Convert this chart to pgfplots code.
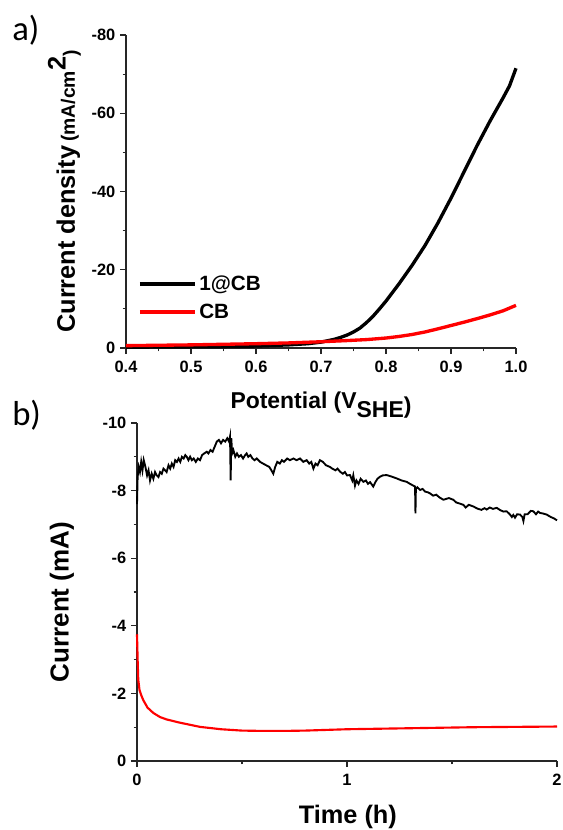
\documentclass[border=0pt]{standalone}
\usepackage{fontspec}
\setmainfont{Liberation Sans}
\newfontfamily\panelfont{Carlito}
\usepackage{pgfplots}
\pgfplotsset{compat=1.18}

\pgfplotsset{
  panel/.style={
    scale only axis,
    y dir=reverse,
    axis x line*=bottom, axis y line*=left,
    axis line style={line width=0.8pt, black!85, -},
    every tick/.style={line width=0.8pt, black!85},
    tick align=outside,
    major tick length=4.5pt,
    minor tick length=2.6pt,
    minor tick num=1,
    tick label style={font=\fontsize{12.3}{13}\selectfont\bfseries},
    xticklabel style={yshift=-1.5pt},
    /pgf/number format/assume math mode=true,
    label style={font=\bfseries},
    clip=false,
  },
}

\begin{document}
\begin{tikzpicture}
\useasboundingbox (0,0) rectangle (421.5pt,-622.5pt);

% ---- a) linear sweep
\begin{axis}[panel,
  at={(94.5pt,-261pt)}, anchor=south west,
  width=292.5pt, height=234.75pt,
  xmin=0.4, xmax=1.0, ymin=-80, ymax=0,
  xtick={0.4,0.5,0.6,0.7,0.8,0.9,1.0},
  ytick={-80,-60,-40,-20,0},
  xticklabel style={/pgf/number format/.cd, fixed, fixed zerofill, precision=1},
  xlabel={Potential (V\raisebox{-0.75ex}{SHE}\raisebox{-0.45ex}{)}},
  xlabel style={at={(axis description cs:0.5,-0.192)}, anchor=base,
    font=\fontsize{17.2}{19}\selectfont\bfseries},
  ylabel={{\fontsize{19}{20}\selectfont Current density} {\fontsize{14.5}{16}\selectfont (mA/cm\raisebox{0.9ex}{\fontsize{19}{20}\selectfont 2}\raisebox{-0.2ex}{)}}},
  ylabel style={at={(axis description cs:-0.158,0.5)}, anchor=center},
  legend style={draw=none, fill=none, inner sep=0pt,
    at={(axis description cs:0.03,0.16)}, anchor=west,
    font=\fontsize{15.5}{17}\selectfont\bfseries, row sep=5pt,
    nodes={inner sep=2pt}},
  legend cell align=left,
  legend image code/.code={\draw[#1, line width=3pt] (0pt,0pt) -- (41pt,0pt);},
]
\addplot[black, line width=2.5pt] coordinates {
(0.40,-0.2)(0.45,-0.25)(0.50,-0.3)(0.55,-0.35)(0.60,-0.5)(0.65,-0.8)
(0.68,-1.1)(0.70,-1.5)(0.72,-2.2)(0.73,-2.7)(0.74,-3.3)(0.75,-4.1)(0.76,-5.1)
(0.77,-6.5)(0.78,-8.1)(0.79,-10.0)(0.80,-12.0)(0.82,-16.4)(0.84,-21.1)
(0.86,-26.2)(0.88,-32.0)(0.90,-38.3)(0.92,-45.0)(0.94,-51.7)(0.96,-58.0)
(0.98,-63.9)(0.99,-67.0)(1.00,-71.5)};
\addlegendentry{1@CB}
\addplot[red, line width=2.5pt] coordinates {
(0.40,-0.6)(0.50,-0.8)(0.60,-1.1)(0.65,-1.3)(0.70,-1.6)(0.74,-1.9)
(0.77,-2.15)(0.80,-2.55)(0.82,-2.95)(0.84,-3.45)(0.86,-4.1)(0.88,-4.9)
(0.90,-5.75)(0.92,-6.6)(0.94,-7.5)(0.96,-8.45)(0.98,-9.5)(1.00,-10.9)};
\addlegendentry{CB}
\end{axis}

% ---- b) chronoamperometry
\begin{axis}[panel,
  at={(102.75pt,-570.75pt)}, anchor=south west,
  width=315pt, height=253.5pt,
  xmin=0, xmax=2, ymin=-10, ymax=0,
  xtick={0,1,2},
  ytick={-10,-8,-6,-4,-2,0},
  xlabel={Time (h)},
  xlabel style={at={(axis description cs:0.502,-0.186)}, anchor=base,
    font=\fontsize{19}{20}\selectfont\bfseries},
  ylabel={Current (mA)},
  ylabel style={at={(axis description cs:-0.179,0.47)}, anchor=center,
    font=\fontsize{19.5}{21}\selectfont\bfseries},
]
\addplot[black, line width=1.4pt] coordinates {
(0.000,-7.6)(0.003,-8.4)(0.008,-8.7)(0.014,-8.55)(0.020,-8.85)(0.026,-8.6)
(0.032,-8.9)(0.040,-8.7)(0.048,-8.45)(0.055,-8.6)(0.062,-8.3)(0.070,-8.5)
(0.078,-8.35)(0.086,-8.55)(0.094,-8.45)(0.102,-8.4)(0.110,-8.55)(0.118,-8.5)
(0.126,-8.65)(0.134,-8.6)(0.141,-8.55)(0.150,-8.75)(0.158,-8.65)(0.166,-8.8)
(0.174,-8.7)(0.182,-8.9)(0.190,-8.85)(0.198,-8.95)(0.206,-8.85)(0.214,-9.0)
(0.222,-8.95)(0.230,-9.05)(0.237,-9.0)(0.245,-8.9)(0.253,-9.0)(0.261,-8.9)
(0.270,-8.95)(0.280,-8.85)(0.290,-8.95)(0.300,-8.9)(0.310,-9.05)(0.320,-9.1)
(0.332,-9.15)(0.340,-9.1)(0.350,-9.2)(0.360,-9.15)(0.370,-9.3)(0.380,-9.45)
(0.390,-9.5)(0.400,-9.4)(0.410,-9.5)(0.420,-9.45)(0.430,-9.55)(0.438,-9.45)
(0.443,-9.6)(0.446,-8.3)(0.449,-9.55)(0.453,-9.1)(0.459,-9.2)(0.468,-9.0)
(0.476,-9.1)(0.485,-9.0)(0.495,-9.05)(0.505,-8.95)(0.515,-9.05)(0.522,-9.1)
(0.530,-9.0)(0.540,-9.05)(0.550,-8.95)(0.560,-8.9)(0.570,-8.95)(0.586,-8.85)
(0.600,-8.8)(0.615,-8.75)(0.630,-8.7)(0.640,-8.6)(0.649,-8.5)(0.658,-8.7)
(0.668,-8.85)(0.680,-8.8)(0.690,-8.9)(0.700,-8.85)(0.715,-8.95)(0.728,-8.9)
(0.745,-8.95)(0.760,-8.9)(0.776,-8.95)(0.792,-8.85)(0.808,-8.9)(0.820,-8.8)
(0.830,-8.85)(0.840,-8.65)(0.850,-8.8)(0.860,-8.75)(0.871,-8.9)(0.885,-8.85)
(0.900,-8.75)(0.919,-8.7)(0.930,-8.65)(0.945,-8.6)(0.955,-8.65)(0.967,-8.56)
(0.980,-8.5)(0.990,-8.55)(1.000,-8.45)(1.014,-8.46)(1.025,-8.3)(1.030,-8.45)
(1.038,-8.15)(1.045,-8.3)(1.055,-8.2)(1.065,-8.35)(1.078,-8.26)(1.090,-8.3)
(1.100,-8.2)(1.110,-8.25)(1.125,-8.12)(1.135,-8.25)(1.145,-8.35)(1.157,-8.41)
(1.170,-8.45)(1.189,-8.46)(1.210,-8.42)(1.237,-8.36)(1.260,-8.3)(1.284,-8.26)
(1.300,-8.2)(1.315,-8.15)(1.324,-8.12)(1.326,-7.33)(1.328,-8.05)(1.335,-8.1)
(1.348,-8.02)(1.360,-8.05)(1.372,-7.97)(1.385,-7.95)(1.395,-7.92)(1.410,-7.85)
(1.425,-7.88)(1.440,-7.8)(1.459,-7.73)(1.470,-7.75)(1.485,-7.78)(1.506,-7.73)
(1.520,-7.65)(1.535,-7.62)(1.554,-7.58)(1.565,-7.5)(1.580,-7.58)(1.602,-7.53)
(1.620,-7.47)(1.640,-7.43)(1.655,-7.48)(1.665,-7.44)(1.680,-7.5)(1.695,-7.46)
(1.713,-7.49)(1.730,-7.42)(1.745,-7.38)(1.760,-7.39)(1.775,-7.3)(1.785,-7.22)
(1.792,-7.28)(1.800,-7.2)(1.810,-7.3)(1.824,-7.29)(1.835,-7.22)(1.840,-7.10)
(1.846,-7.3)(1.860,-7.3)(1.875,-7.4)(1.887,-7.39)(1.900,-7.3)(1.910,-7.38)
(1.919,-7.34)(1.935,-7.32)(1.951,-7.29)(1.970,-7.22)(1.985,-7.18)(2.000,-7.12)};
\addplot[red, line width=1.6pt] coordinates {
(0,-3.75)(0.003,-3.0)(0.006,-2.4)(0.012,-2.1)(0.02,-1.95)(0.03,-1.8)
(0.05,-1.58)(0.078,-1.42)(0.11,-1.3)(0.141,-1.23)(0.2,-1.14)(0.3,-1.01)
(0.4,-0.94)(0.5,-0.9)(0.6,-0.89)(0.7,-0.89)(0.8,-0.9)(1.0,-0.94)
(1.2,-0.96)(1.4,-0.98)(1.6,-1.0)(1.8,-1.01)(2.0,-1.02)};
\end{axis}

\node[anchor=base west, inner sep=0pt, font=\panelfont\fontsize{26}{28}\selectfont]
  at (9pt,-30.5pt) {a)};
\node[anchor=base west, inner sep=0pt, font=\panelfont\fontsize{26}{28}\selectfont]
  at (9pt,-319pt) {b)};
\end{tikzpicture}
\end{document}
